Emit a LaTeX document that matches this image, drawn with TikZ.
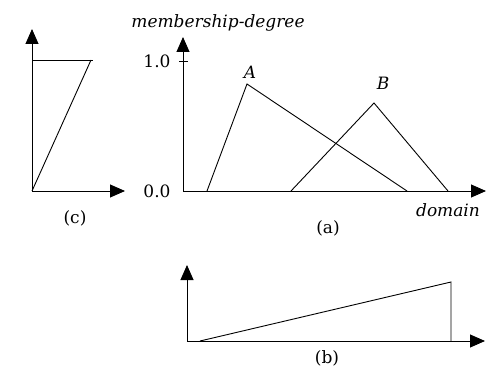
\documentclass[tikz,border=0pt]{standalone}
\usepackage{fontspec}
\setmainfont{DejaVu Serif}
\usetikzlibrary{arrows.meta}
\begin{document}
\begin{tikzpicture}[x=1pt,y=-1pt, line width=0.9pt,
 axis/.style={-{Triangle[length=15pt,width=13pt]}},
 lbl/.style={inner sep=0pt, font=\fontsize{17}{19}\selectfont},
 ilbl/.style={inner sep=0pt, font=\fontsize{17}{19}\selectfont\itshape}]
\useasboundingbox (0,0) rectangle (486,379);
% panel (a)
\coordinate (aO) at (183,191);
\coordinate (aY) at (183,37);
\coordinate (aX) at (486,191);
\draw[axis] (aO) -- (aY);
\draw[axis] (aO) -- (aX);
\coordinate (t1) at (179,61);
\coordinate (t2) at (188,61);
\draw (t1) -- (t2);
\node[lbl] (one) at (157,61) {1.0};
\node[lbl] (zero) at (157,191) {0.0};
\node[ilbl] (mdeg) at (218,23) {membership-degree};
\node[ilbl] (dom) at (448,210) {domain};
\node[lbl] (la) at (328,228) {(a)};
\node[ilbl] (lA) at (250,72) {A};
\node[ilbl] (lB) at (383,83) {B};
\coordinate (A1) at (207,191);
\coordinate (A2) at (247,84);
\coordinate (A3) at (407,191);
\coordinate (B1) at (291,191);
\coordinate (B2) at (374,103);
\coordinate (B3) at (448,191);
\draw (A1) -- (A2) -- (A3);
\draw (B1) -- (B2) -- (B3);
% panel (c)
\coordinate (cO) at (32,191);
\coordinate (cY) at (32,29);
\coordinate (cX) at (125,191);
\draw[axis] (cO) -- (cY);
\draw[axis] (cO) -- (cX);
\coordinate (c1) at (33,60);
\coordinate (c2) at (93,60);
\coordinate (c3) at (91,60);
\draw (c1) -- (c2);
\draw (cO) -- (c3);
\node[lbl] (lc) at (75,218) {(c)};
% panel (b)
\coordinate (bO) at (187,341);
\coordinate (bY) at (187,265);
\coordinate (bX) at (485,341);
\draw[axis] (bO) -- (bY);
\draw[axis] (bO) -- (bX);
\coordinate (b1) at (200,341);
\coordinate (b2) at (451,282);
\coordinate (b3) at (451,341);
\draw (b1) -- (b2) -- (b3);
\node[lbl] (lb) at (327,358) {(b)};
\end{tikzpicture}
\end{document}
